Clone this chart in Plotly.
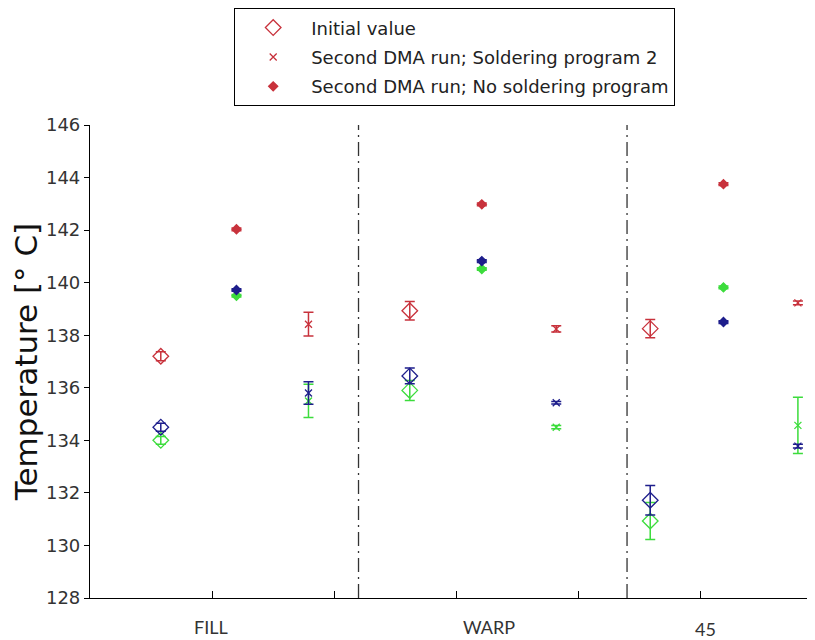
import plotly.graph_objects as go

# ---------------- data ----------------
categories = ["FILL", "WARP", "45"]
category_label_x = [0.99, 3.27, 5.04]
group_separators = [2.2, 4.4]

series_names = ["Initial value",
                "Second DMA run; Soldering program 2",
                "Second DMA run; No soldering program"]

# x positions of each measurement column (one per category)
initial_x = [0.58, 2.62, 4.59]
nosolder_x = [1.20, 3.21, 5.19]
solder2_x = [1.79, 3.82, 5.80]

# Initial value (diamonds)
initial_red = [137.20, 138.93, 138.25]
initial_red_err = [0.17, 0.35, 0.35]
initial_blue = [134.50, 136.45, 131.72]
initial_blue_err = [0.15, 0.30, 0.56]
initial_green = [134.00, 135.90, 130.93]
initial_green_err = [0.15, 0.38, 0.70]

# Second DMA run; Soldering program 2 (x)
solder2_red = [138.42, 138.24, 139.23]
solder2_red_err = [0.45, 0.12, 0.07]
solder2_blue = [135.80, 135.43, 133.78]
solder2_blue_err = [0.43, 0.05, 0.07]
solder2_green = [135.50, 134.50, 134.57]
solder2_green_err = [0.63, 0.06, 1.07]

# Second DMA run; No soldering program (dots)
nosolder_red = [142.03, 142.98, 143.75]
nosolder_blue = [139.72, 140.82, 138.50]
nosolder_green = [139.50, 140.52, 139.82]
nosolder_err = [0.05, 0.05, 0.05]

y_ticks = [128, 130, 132, 134, 136, 138, 140, 142, 144, 146]
x_ticks = [1, 2, 3, 4, 5]

# ---------------- style ----------------
RED = "#c8323c"
BLUE = "#1e1e8c"
GREEN = "#3cdc3c"

fig = go.Figure()

def add(xs, ys, err, color, symbol, size, name, legend):
    fig.add_trace(go.Scatter(
        x=xs, y=ys, mode="markers", name=name,
        showlegend=legend, legendgroup=name if legend else None,
        marker=dict(symbol=symbol, size=size, color=color,
                    line=dict(color=color, width=1.3)),
        error_y=dict(type="data", array=err, color=color,
                     thickness=1.5, width=5, visible=True),
    ))

# order: green, blue, red so that red is on top in the plot
add(initial_x, initial_green, initial_green_err, GREEN, "diamond-open", 12, series_names[0], False)
add(initial_x, initial_blue, initial_blue_err, BLUE, "diamond-open", 12, series_names[0], False)
add(solder2_x, solder2_green, solder2_green_err, GREEN, "x-thin-open", 7, series_names[1], False)
add(solder2_x, solder2_blue, solder2_blue_err, BLUE, "x-thin-open", 7, series_names[1], False)
add(nosolder_x, nosolder_green, nosolder_err, GREEN, "diamond", 7, series_names[2], False)
add(nosolder_x, nosolder_blue, nosolder_err, BLUE, "diamond", 7, series_names[2], False)
add(initial_x, initial_red, initial_red_err, RED, "diamond-open", 12, series_names[0], True)
add(solder2_x, solder2_red, solder2_red_err, RED, "x-thin-open", 7, series_names[1], True)
add(nosolder_x, nosolder_red, nosolder_err, RED, "diamond", 7, series_names[2], True)

# group separators (dash-dot verticals)
for sx in group_separators:
    fig.add_shape(type="line", xref="x", yref="y",
                  x0=sx, x1=sx, y0=y_ticks[0], y1=y_ticks[-1],
                  line=dict(color="#333333", width=1.3, dash="14px,5px,2px,5px"))

# category labels
for lab, cx in zip(categories, category_label_x):
    fig.add_annotation(x=cx, xref="x", y=0, yref="paper",
                       text=lab, showarrow=False,
                       yanchor="middle", yshift=-29 if lab != "45" else -31,
                       font=dict(family="Lato", size=18, color="#333333"))

# the page body adds an 8px offset, so the figure is 8px smaller than the window
fig.update_layout(
    width=807, height=632, autosize=False,
    margin=dict(l=82, r=0, t=117, b=42),
    paper_bgcolor="white", plot_bgcolor="white",
    font=dict(family="DejaVu Sans", size=18, color="#333333"),
    legend=dict(x=0.1986, y=1.247, xanchor="left", yanchor="top",
                bgcolor="white", bordercolor="black", borderwidth=1.2,
                font=dict(family="DejaVu Sans", size=18, color="#222222"),
                itemwidth=66, tracegroupgap=3, traceorder="grouped"),
    xaxis=dict(range=[0, 5.94], tickvals=x_ticks, showticklabels=False,
               ticks="inside", ticklen=7, tickcolor="black", tickwidth=1.2,
               showline=True, linecolor="black", linewidth=1.2,
               showgrid=False, zeroline=False),
    yaxis=dict(range=[y_ticks[0], y_ticks[-1]], tickvals=y_ticks,
               ticks="outside", ticklen=5, tickcolor="black", tickwidth=1.2,
               showline=True, linecolor="black", linewidth=1.2,
               showgrid=False, zeroline=False,
               tickfont=dict(family="DejaVu Sans", size=18, color="#333333"),
               title=dict(text="Temperature [° C]", standoff=6,
                          font=dict(family="DejaVu Sans", size=31, color="#111111"))),
)

fig.write_html("out.html")
